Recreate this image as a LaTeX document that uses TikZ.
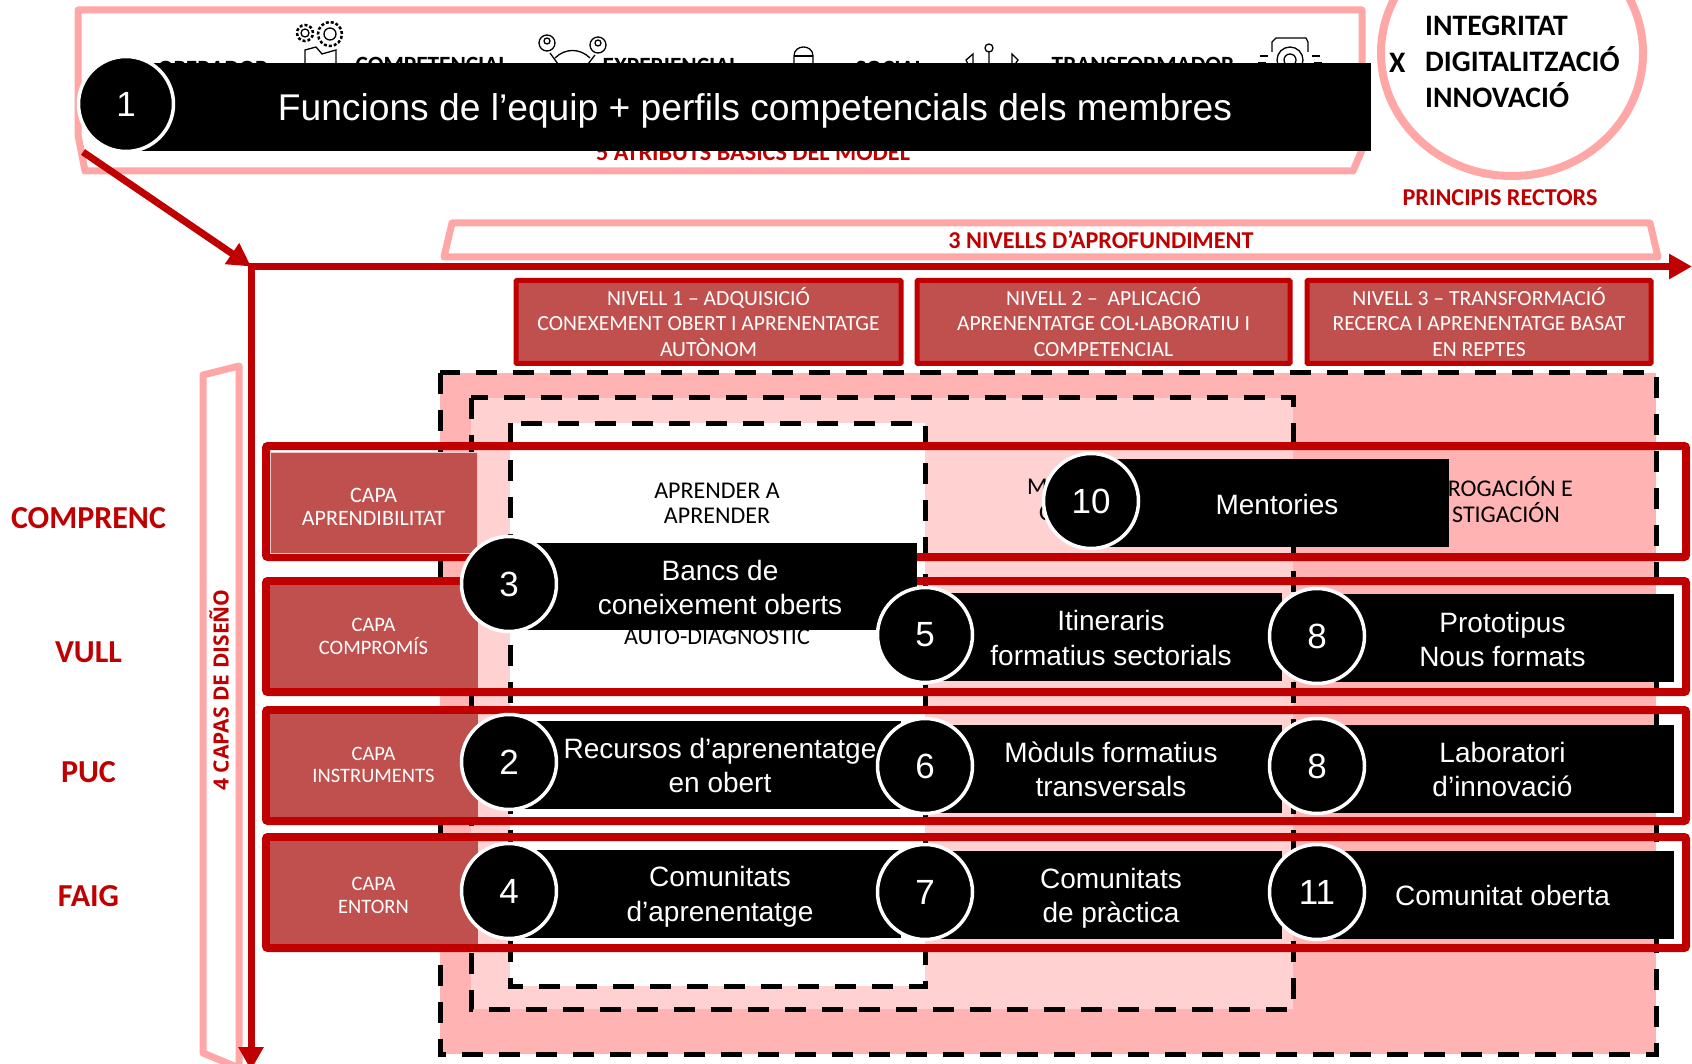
\documentclass[tikz,border=0pt]{standalone}
\usepackage{fontspec}
\setmainfont{Carlito}
\newfontfamily\arialfont{Liberation Sans}
\newfontfamily\capasfont{Open Sans}
\usetikzlibrary{arrows.meta}
\definecolor{axisred}{HTML}{C00000}
\definecolor{capared}{HTML}{C0504D}
\definecolor{pinkline}{HTML}{FFA6A6}
\definecolor{pinkdark}{HTML}{FFB3B3}
\definecolor{pinklight}{HTML}{FFD1D1}
\begin{document}
\begin{tikzpicture}[x=1pt,y=-1pt,>={Triangle[length=23pt,width=24pt]},
    frameline/.style={draw=pinkline,line width=7pt,line join=round},
    redtitle/.style={text=axisred,font=\bfseries\fontsize{24.2}{28}\selectfont,inner sep=0pt},
    sidetitle/.style={text=axisred,font=\bfseries\fontsize{32}{37}\selectfont,inner sep=0pt},
    attr/.style={text=black,font=\bfseries\fontsize{23.3}{27}\selectfont,inner sep=0pt},
    principle/.style={text=black,anchor=west,font=\bfseries\fontsize{29.7}{36}\selectfont,inner sep=0pt},
    level/.style={draw=axisred,fill=capared,line width=5pt,text=white,align=center,inner sep=0pt,
                  rounded corners=1pt,font=\fontsize{21.6}{25.5}\selectfont},
    zone/.style={line width=5pt,dash pattern=on 21pt off 16pt,draw=black},
    rowbox/.style={draw=axisred,line width=8pt,rounded corners=2pt,inner sep=0pt},
    capabox/.style={fill=capared,inner sep=0pt},
    capatext/.style={text=white,align=center,inner sep=0pt,font=\fontsize{20.5}{22.5}\selectfont},
    backtext/.style={text=black,align=center,inner sep=0pt,font=\fontsize{24}{25.5}\selectfont},
    barbox/.style={fill=black,inner sep=0pt},
    bartext/.style={text=white,align=center,inner sep=0pt,font=\arialfont\fontsize{28}{34.5}\selectfont},
    numdot/.style={circle,draw=white,fill=black,line width=3.5pt,minimum size=95pt,inner sep=0pt,
                   text=white,font=\arialfont\fontsize{35}{40}\selectfont},
    iconline/.style={draw=black,line width=1.3pt}]
  \useasboundingbox (0,0) rectangle (1692,1064);
  % frames of the model
  \draw[frameline] (78,10) -- (1362,10) -- (1362,150) -- (1353,171) -- (85,171) -- (78,135) -- cycle;
  \draw[frameline,line width=8pt] (1512,53) ellipse (131pt and 123pt);
  \draw[frameline] (452,223) -- (1650,223) -- (1658,257) -- (444,257) -- cycle;
  \draw[frameline] (203,375) -- (239,366) -- (239,1068) -- (203,1053) -- cycle;
  % icons, mostly hidden by the bar
  \draw[iconline] (305,33) circle (4pt);
  \draw[iconline,densely dashed,line width=2.5pt] (305,33) circle (8pt);
  \draw[iconline] (330,34) circle (6pt);
  \draw[iconline,densely dashed,line width=2.5pt] (330,34) circle (12pt);
  \draw[iconline] (305,66) -- (305,50) -- (316,47) -- (322,54) -- (336,50) -- (336,66);
  \draw[iconline] (547,43) circle (8pt) (598,45) circle (8pt) (547,41) circle (3pt) (598,43) circle (3pt);
  \draw[iconline] (555,58) .. controls (565,48) and (580,48) .. (590,58);
  \draw[iconline] (550,53) -- (558,64) (595,55) -- (588,64);
  \draw[iconline] (794,66) -- (794,56) .. controls (794,44) and (813,44) .. (813,56) -- (813,66);
  \draw[iconline] (794,56) -- (813,56);
  \draw[iconline] (989,48) circle (4pt) (989,52) -- (989,66);
  \draw[iconline] (969,66) -- (966,60) -- (973,54) -- (973,66) (1014,66) -- (1018,60) -- (1012,54) -- (1012,66);
  \draw[iconline] (1272,52) -- (1272,42) -- (1276,38) -- (1306,38) -- (1308,42) -- (1308,52);
  \draw[iconline] (1290,60) circle (13pt) (1290,60) circle (6pt);
  \draw[iconline] (1260,56) -- (1268,56) (1258,63) -- (1266,63) (1312,56) -- (1320,56) (1314,63) -- (1322,63);
  \node[attr] (attr1) at (213,69) {OPERADOR};
  \node[attr] (attr2) at (432,65) {COMPETENCIAL};
  \node[attr] (attr3) at (671,66) {EXPERIENCIAL};
  \node[attr] (attr4) at (890,69) {SOCIAL};
  \node[attr] (attr5) at (1143,65) {TRANSFORMADOR};
  \node[redtitle] (title5) at (753,153) {5 ATRIBUTS BASICS DEL MODEL};
  % principles
  \node[principle] (prin1) at (1425,26) {INTEGRITAT};
  \node[principle] (prin2) at (1425,59) {DIGITALITZACIÓ};
  \node[principle] (prin3) at (1425,95) {INNOVACIÓ};
  \node[principle] (prinx) at (1389,63) {X};
  \node[redtitle] (titlep) at (1500,198) {PRINCIPIS RECTORS};
  \node[redtitle] (title3) at (1101,240) {3 NIVELLS D’APROFUNDIMENT};
  \node[text=axisred,rotate=90,inner sep=0pt,font=\capasfont\bfseries\fontsize{21}{24}\selectfont] (title4) at (219,690) {4 CAPAS DE DISEÑO};
  % axes
  \coordinate (origin) at (251,266.5);
  \coordinate (xend) at (1692,266.5);
  \coordinate (yend) at (251,1070);
  \coordinate (ytop) at (251,263);
  \coordinate (diag) at (83,152);
  \draw[->,draw=axisred,line width=7pt] (origin) -- (xend);
  \draw[->,draw=axisred,line width=7pt] (ytop) -- (yend);
  \draw[->,draw=axisred,line width=7pt] (diag) -- (origin);
  % levels
  \node[level,minimum width=385pt,minimum height=83pt] (level1) at (708.5,322) {NIVELL 1 – ADQUISICIÓ\\CONEXEMENT OBERT I APRENENTATGE\\AUTÒNOM};
  \node[level,minimum width=373pt,minimum height=83pt] (level2) at (1103.5,322) {NIVELL 2 –\ \ APLICACIÓ\\APRENENTATGE COL·LABORATIU I\\COMPETENCIAL};
  \node[level,minimum width=344pt,minimum height=83pt] (level3) at (1479,322) {NIVELL 3 – TRANSFORMACIÓ\\RECERCA I APRENENTATGE BASAT\\EN REPTES};
  % depth zones
  \filldraw[zone,fill=pinkdark] (440,373) rectangle (1656,1054);
  \filldraw[zone,fill=pinklight] (471,398) rectangle (1293,1009);
  \filldraw[zone,fill=white] (510,423) rectangle (925,986);
  \node[backtext] (back1) at (717,503.5) {APRENDER A\\APRENDER};
  \node[backtext] (back2) at (717,637) {AUTO-DIAGNOSTIC};
  \node[backtext,anchor=west] (back3) at (1027,487) {M};
  \node[backtext,anchor=west] (back4) at (1039,513) {C};
  \node[backtext,anchor=east] (back5) at (1573,487) {ROGACIÓN E};
  \node[backtext,anchor=east] (back6) at (1560,513) {STIGACIÓN};
  % layers
  \node[rowbox,minimum width=1420pt,minimum height=111pt] (row1) at (976,501.5) {};
  \node[rowbox,minimum width=1420pt,minimum height=111pt] (row2) at (976,636.5) {};
  \node[rowbox,minimum width=1420pt,minimum height=111pt] (row3) at (976,765.5) {};
  \node[rowbox,minimum width=1420pt,minimum height=111pt] (row4) at (976,892.5) {};
  \node[capabox,draw=white!70!capared,line width=1pt,minimum width=207pt,minimum height=101pt] (capa1) at (374,502.5) {};
  \node[capabox,minimum width=208pt,minimum height=103pt] (capa2) at (374,636.5) {};
  \node[capabox,minimum width=208pt,minimum height=103pt] (capa3) at (374,765.5) {};
  \node[capabox,minimum width=208pt,minimum height=103pt] (capa4) at (374,892.5) {};
  \node[capatext,font=\fontsize{22}{22.5}\selectfont] (capat1) at (373.5,507) {CAPA\\APRENDIBILITAT};
  \node[capatext] (capat2) at (373.5,636.5) {CAPA\\COMPROMÍS};
  \node[capatext] (capat3) at (373.5,765) {CAPA\\INSTRUMENTS};
  \node[capatext] (capat4) at (373.5,895.5) {CAPA\\ENTORN};
  \node[sidetitle] (side1) at (88.5,518) {COMPRENC};
  \node[sidetitle] (side2) at (88.5,652) {VULL};
  \node[sidetitle] (side3) at (88.5,772) {PUC};
  \node[sidetitle] (side4) at (88.5,896) {FAIG};
  % black bars
  \node[barbox,minimum width=1245pt,minimum height=88pt] (bar1) at (748.5,107) {};
  \node[bartext,font=\arialfont\fontsize{37.2}{44}\selectfont] (txt1) at (755,111) {Funcions de l’equip + perfils competencials dels membres};
  \node[barbox,minimum width=409pt,minimum height=87pt] (bar3) at (712.5,586.5) {};
  \node[bartext] (txt3) at (720,587.5) {Bancs de\\coneixement oberts};
  \node[barbox,minimum width=358pt,minimum height=88pt] (bar10) at (1270,503) {};
  \node[bartext] (txt10) at (1277,504) {Mentories};
  \node[barbox,minimum width=357pt,minimum height=88pt] (bar5) at (1103.5,637) {};
  \node[bartext] (txt5) at (1111,638) {Itineraris\\formatius sectorials};
  \node[barbox,minimum width=357pt,minimum height=88pt] (bar8) at (1495.5,638) {};
  \node[bartext] (txt8) at (1502.5,639.5) {Prototipus\\Nous formats};
  \node[barbox,minimum width=393pt,minimum height=88pt] (bar2) at (704.5,765) {};
  \node[bartext] (txt2) at (720,765.5) {Recursos d’aprenentatge\\en obert};
  \node[barbox,minimum width=357pt,minimum height=88pt] (bar6) at (1103.5,769) {};
  \node[bartext] (txt6) at (1111,769.5) {Mòduls formatius\\transversals};
  \node[barbox,minimum width=357pt,minimum height=88pt] (bar8b) at (1495.5,769) {};
  \node[bartext] (txt8b) at (1502.5,769.5) {Laboratori\\d’innovació};
  \node[barbox,minimum width=393pt,minimum height=88pt] (bar4) at (704.5,894) {};
  \node[bartext] (txt4) at (720,897) {Comunitats\\d’aprenentatge};
  \node[barbox,minimum width=357pt,minimum height=88pt] (bar7) at (1103.5,895) {};
  \node[bartext] (txt7) at (1111,898.5) {Comunitats\\de pràctica};
  \node[barbox,minimum width=357pt,minimum height=88pt] (bar11) at (1495.5,895) {};
  \node[bartext] (txt11) at (1502.5,895) {Comunitat oberta};
  % numbers
  \node[numdot] (num1) at (126,104) {1};
  \node[numdot] (num3) at (509,584) {3};
  \node[numdot] (num10) at (1091,501) {10};
  \node[numdot] (num5) at (925,635) {5};
  \node[numdot] (num8) at (1317,636) {8};
  \node[numdot] (num2) at (509,762) {2};
  \node[numdot] (num6) at (925,766) {6};
  \node[numdot] (num8b) at (1317,766) {8};
  \node[numdot] (num4) at (509,891) {4};
  \node[numdot] (num7) at (925,892) {7};
  \node[numdot] (num11) at (1317,892) {11};
\end{tikzpicture}
\end{document}
